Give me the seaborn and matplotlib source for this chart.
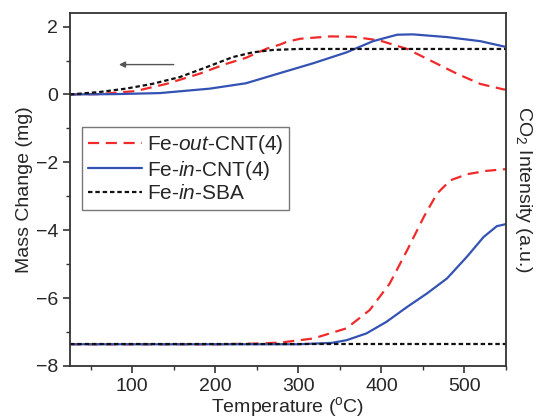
import matplotlib
matplotlib.use("Agg")
import matplotlib.pyplot as plt
import seaborn as sns
import pandas as pd
from matplotlib.ticker import MultipleLocator

# ---- data ----
labels = ["Fe-$\\mathit{out}$-CNT(4)", "Fe-$\\mathit{in}$-CNT(4)", "Fe-$\\mathit{in}$-SBA"]

# mass change curves (upper)
out_mass_T = [25, 60, 104, 141, 181, 213, 237, 262, 278, 286, 302, 338, 366, 398, 431, 459, 491, 519, 547, 550]
out_mass_y = [0, 0.01, 0.10, 0.31, 0.61, 0.90, 1.08, 1.35, 1.47, 1.55, 1.64, 1.71, 1.70, 1.59, 1.34, 1.00, 0.61, 0.31, 0.15, 0.14]

in_mass_T = [25, 80, 133, 193, 237, 278, 318, 358, 390, 419, 438, 479, 519, 550]
in_mass_y = [0, 0.01, 0.04, 0.17, 0.33, 0.63, 0.92, 1.24, 1.57, 1.76, 1.77, 1.69, 1.57, 1.40]

sba_mass_T = [25, 60, 92, 124, 157, 189, 221, 245, 269, 300, 400, 550]
sba_mass_y = [0, 0.07, 0.17, 0.31, 0.51, 0.80, 1.10, 1.24, 1.31, 1.34, 1.34, 1.34]

# CO2 intensity curves (lower)
out_co2_T = [25, 200, 250, 278, 318, 358, 386, 410, 431, 451, 467, 483, 503, 527, 550]
out_co2_y = [-7.36, -7.36, -7.34, -7.31, -7.19, -6.89, -6.35, -5.57, -4.59, -3.61, -2.92, -2.53, -2.35, -2.25, -2.20]

in_co2_T = [25, 300, 340, 358, 382, 406, 431, 455, 479, 503, 523, 539, 550]
in_co2_y = [-7.36, -7.36, -7.32, -7.24, -7.04, -6.70, -6.26, -5.86, -5.42, -4.78, -4.20, -3.88, -3.82]

sba_co2_T = [25, 300, 550]
sba_co2_y = [-7.36, -7.36, -7.36]

# arrow (points toward left axis)
arrow_tail = (150, 0.88)
arrow_head = (84, 0.88)

sns.set_style("ticks")
plt.rcParams["font.family"] = ["Liberation Sans", "DejaVu Sans"]
plt.rcParams["mathtext.fontset"] = "custom"
plt.rcParams["mathtext.rm"] = "Liberation Sans"
plt.rcParams["mathtext.it"] = "Liberation Sans:italic"
plt.rcParams["mathtext.bf"] = "Liberation Sans:bold"

fig = plt.figure(figsize=(5.38, 4.19), dpi=100)
ax = fig.add_axes([0.130, 0.1265, 0.8105, 0.8425])

red = "#f02a2a"
blue = "#3452b4"
black = "#111111"

styles = [
    (out_mass_T, out_mass_y, out_co2_T, out_co2_y, red, (5, 3), labels[0]),
    (in_mass_T, in_mass_y, in_co2_T, in_co2_y, blue, None, labels[1]),
    (sba_mass_T, sba_mass_y, sba_co2_T, sba_co2_y, black, (2, 1.3), labels[2]),
]

for mT, my, cT, cy, col, dash, lab in styles:
    for T, y, l in ((mT, my, lab), (cT, cy, None)):
        df = pd.DataFrame({"T": T, "y": y})
        sns.lineplot(data=df, x="T", y="y", ax=ax, label=l, color=col, lw=1.6, sort=False)
        ln = ax.get_lines()[-1]
        ln.set_solid_joinstyle("round")
        ln.set_dash_joinstyle("round")
        if dash is not None:
            ln.set_dashes(dash)

ax.annotate("", xy=arrow_head, xytext=arrow_tail,
            arrowprops=dict(arrowstyle="-|>", color="#555555", lw=1.0,
                            mutation_scale=9, shrinkA=0, shrinkB=0))

ax.set_xlim(25, 550)
ax.set_ylim(-8, 2.4)
ax.xaxis.set_major_locator(MultipleLocator(100))
ax.xaxis.set_minor_locator(MultipleLocator(50))
ax.yaxis.set_major_locator(MultipleLocator(2))
ax.yaxis.set_minor_locator(MultipleLocator(1))
ax.tick_params(which="major", direction="out", length=5, width=1.2, labelsize=14, color="#333333")
ax.tick_params(which="minor", direction="out", length=3, width=1.0, color="#333333")
for s in ax.spines.values():
    s.set_linewidth(1.3)
    s.set_color("#333333")

ax.set_xlabel("Temperature ($^{\\mathrm{o}}$C)", fontsize=14, labelpad=0)
ax.set_ylabel("Mass Change (mg)", fontsize=14, labelpad=2)

ax2 = ax.twinx()
ax2.set_yticks([])
ax2.set_ylabel("CO$_2$ Intensity (a.u.)", fontsize=14, rotation=270, labelpad=20)
for s in ax2.spines.values():
    s.set_visible(False)

leg = ax.legend(loc="upper left", bbox_to_anchor=(0.0275, 0.677), borderaxespad=0,
                fontsize=15, frameon=True, fancybox=False, edgecolor="#555555",
                handlelength=2.6, labelspacing=0.12, handletextpad=0.2,
                borderpad=0.3)
leg.get_frame().set_linewidth(1.0)

fig.savefig("out.png", dpi=100)
